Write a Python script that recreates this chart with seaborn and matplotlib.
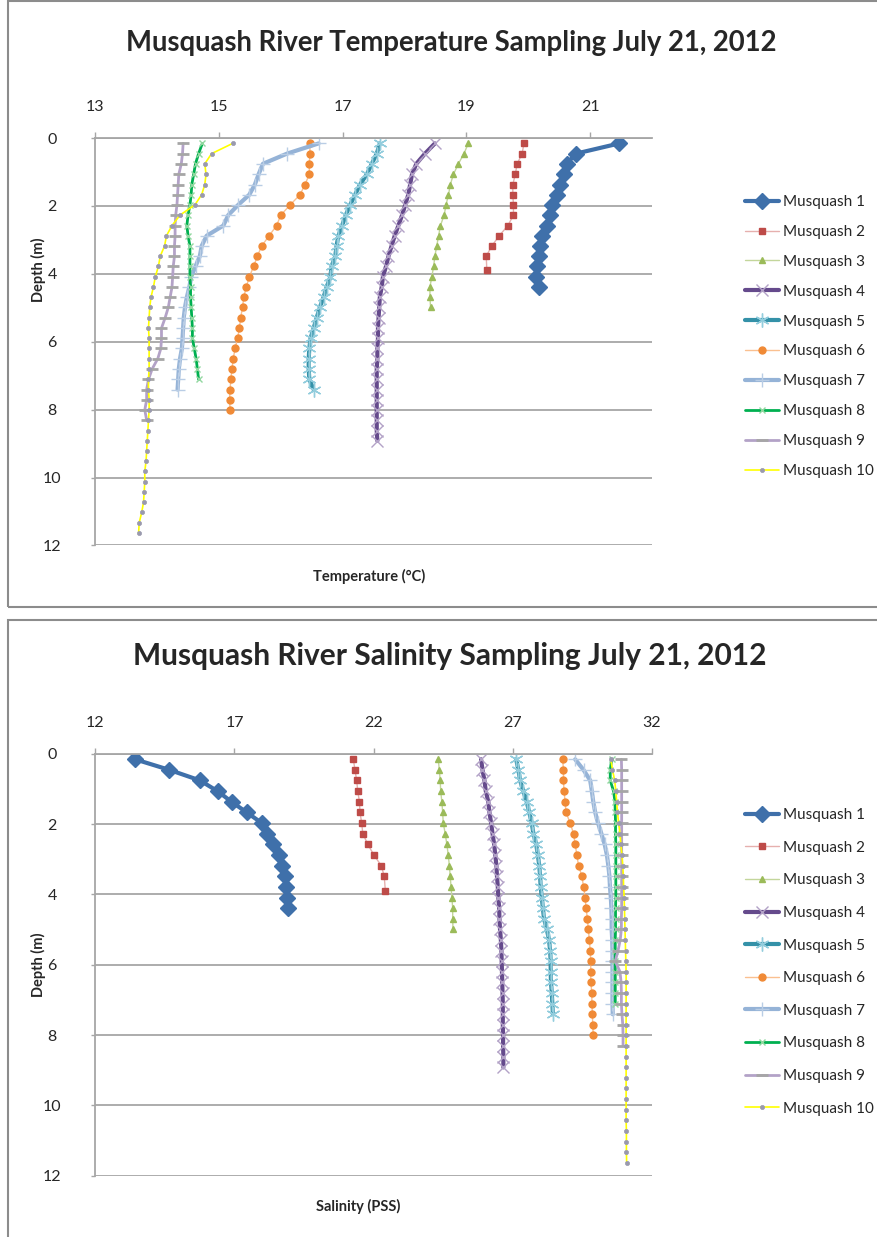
import matplotlib
matplotlib.use('Agg')
import matplotlib.pyplot as plt
from matplotlib.patches import Rectangle
import pandas as pd
import seaborn as sns

# ---------------- data ----------------
stations = ['Musquash 1', 'Musquash 2', 'Musquash 3', 'Musquash 4', 'Musquash 5',
            'Musquash 6', 'Musquash 7', 'Musquash 8', 'Musquash 9', 'Musquash 10']

# sampling depths (m), shared by the casts; Musquash 2 has its own last depth
depth = [0.16, 0.46, 0.76, 1.07, 1.37, 1.67, 1.97, 2.27, 2.58, 2.88,
         3.18, 3.48, 3.78, 4.09, 4.39, 4.69, 4.99, 5.29, 5.60, 5.90,
         6.20, 6.50, 6.80, 7.11, 7.41, 7.71, 8.01, 8.31, 8.62, 8.92,
         9.22, 9.52, 9.82, 10.13, 10.43, 10.73, 11.03, 11.33, 11.64]
depth_m2 = [0.16, 0.46, 0.76, 1.07, 1.37, 1.67, 1.97, 2.27, 2.58, 2.88,
            3.18, 3.48, 3.90]

# temperature (deg C)
temp_m1 = [21.47, 20.77, 20.62, 20.57, 20.52, 20.46, 20.38, 20.35, 20.30, 20.22,
           20.19, 20.17, 20.14, 20.13, 20.18]
temp_m2 = [19.93, 19.90, 19.82, 19.79, 19.75, 19.75, 19.76, 19.76, 19.67, 19.53,
           19.41, 19.32, 19.33]
temp_m3 = [19.03, 18.96, 18.87, 18.79, 18.74, 18.71, 18.67, 18.64, 18.58, 18.55,
           18.52, 18.49, 18.47, 18.44, 18.41, 18.41, 18.42]
temp_m4 = [18.49, 18.33, 18.19, 18.12, 18.09, 18.06, 18.01, 17.96, 17.90, 17.84,
           17.79, 17.74, 17.70, 17.65, 17.63, 17.60, 17.59, 17.58, 17.57, 17.57,
           17.56, 17.56, 17.55, 17.55, 17.55, 17.55, 17.55, 17.55, 17.55, 17.56]
temp_m5 = [17.60, 17.55, 17.47, 17.39, 17.28, 17.20, 17.12, 17.05, 16.99, 16.93,
           16.90, 16.88, 16.82, 16.80, 16.74, 16.69, 16.63, 16.58, 16.53, 16.48,
           16.46, 16.45, 16.45, 16.46, 16.53]
temp_m6 = [16.47, 16.47, 16.46, 16.46, 16.39, 16.31, 16.15, 16.00, 15.93, 15.81,
           15.69, 15.62, 15.56, 15.49, 15.44, 15.40, 15.38, 15.35, 15.33, 15.30,
           15.26, 15.23, 15.21, 15.19, 15.18, 15.17, 15.18]
temp_m7 = [16.61, 16.10, 15.71, 15.64, 15.58, 15.49, 15.31, 15.15, 15.07, 14.80,
           14.72, 14.69, 14.62, 14.55, 14.52, 14.48, 14.45, 14.43, 14.42, 14.41,
           14.40, 14.37, 14.35, 14.34, 14.33]
temp_m8 = [14.73, 14.67, 14.62, 14.59, 14.56, 14.55, 14.53, 14.50, 14.48, 14.50,
           14.53, 14.53, 14.53, 14.53, 14.54, 14.54, 14.55, 14.56, 14.57, 14.57,
           14.60, 14.63, 14.65, 14.67]
temp_m9 = [14.42, 14.41, 14.39, 14.35, 14.34, 14.33, 14.32, 14.30, 14.29, 14.29,
           14.28, 14.28, 14.26, 14.25, 14.24, 14.21, 14.18, 14.13, 14.07, 14.07,
           14.06, 14.01, 13.92, 13.86, 13.83, 13.83, 13.80, 13.83]
temp_m10 = [15.22, 14.88, 14.77, 14.79, 14.77, 14.72, 14.61, 14.37, 14.24, 14.15,
            14.12, 14.05, 14.02, 13.97, 13.94, 13.90, 13.88, 13.87, 13.86, 13.87,
            13.87, 13.87, 13.87, 13.86, 13.86, 13.87, 13.87, 13.86, 13.85, 13.84,
            13.83, 13.82, 13.80, 13.80, 13.79, 13.78, 13.75, 13.71, 13.70]

# salinity (PSS)
sal_m1 = [13.43, 14.66, 15.76, 16.40, 16.90, 17.44, 17.98, 18.18, 18.40, 18.61,
          18.70, 18.82, 18.85, 18.90, 18.94]
sal_m2 = [21.27, 21.33, 21.39, 21.43, 21.49, 21.51, 21.57, 21.61, 21.79, 22.01,
          22.27, 22.38, 22.42]
sal_m3 = [24.32, 24.36, 24.39, 24.41, 24.45, 24.48, 24.50, 24.57, 24.63, 24.68,
          24.72, 24.75, 24.78, 24.81, 24.84, 24.84, 24.85]
sal_m4 = [25.86, 25.91, 25.98, 26.03, 26.12, 26.16, 26.22, 26.27, 26.33, 26.37,
          26.41, 26.43, 26.46, 26.48, 26.51, 26.52, 26.54, 26.57, 26.59, 26.60,
          26.61, 26.62, 26.63, 26.64, 26.64, 26.64, 26.65, 26.65, 26.66, 26.66]
sal_m5 = [27.12, 27.20, 27.26, 27.38, 27.50, 27.59, 27.68, 27.74, 27.84, 27.90,
          27.95, 27.98, 28.00, 28.04, 28.08, 28.12, 28.22, 28.30, 28.34, 28.36,
          28.36, 28.37, 28.40, 28.42, 28.44]
sal_m6 = [28.79, 28.82, 28.82, 28.84, 28.88, 28.91, 29.06, 29.18, 29.24, 29.30,
          29.36, 29.48, 29.54, 29.60, 29.63, 29.68, 29.71, 29.75, 29.78, 29.80,
          29.80, 29.80, 29.84, 29.84, 29.86, 29.87, 29.89]
sal_m7 = [29.24, 29.54, 29.78, 29.84, 29.89, 29.96, 30.06, 30.18, 30.30, 30.38,
          30.43, 30.47, 30.49, 30.52, 30.54, 30.55, 30.55, 30.57, 30.58, 30.58,
          30.58, 30.58, 30.58, 30.58, 30.59]
sal_m8 = [30.55, 30.50, 30.50, 30.62, 30.67, 30.68, 30.69, 30.69, 30.70, 30.70,
          30.70, 30.70, 30.70, 30.70, 30.69, 30.69, 30.69, 30.68, 30.68, 30.68,
          30.68, 30.68, 30.68, 30.68]
sal_m9 = [30.90, 30.91, 30.91, 30.91, 30.91, 30.91, 30.91, 30.91, 30.91, 30.91,
          30.91, 30.91, 30.91, 30.91, 30.91, 30.90, 30.90, 30.86, 30.78, 30.68,
          30.85, 30.89, 30.90, 30.90, 30.92, 30.95, 30.96, 30.96]
sal_m10 = [30.52, 30.58, 30.66, 30.70, 30.73, 30.76, 30.80, 30.85, 30.88, 30.92,
           30.95, 30.97, 30.98, 31.00, 31.01, 31.02, 31.03, 31.04, 31.05, 31.06,
           31.07, 31.07, 31.07, 31.07, 31.07, 31.07, 31.07, 31.07, 31.07, 31.07,
           31.07, 31.07, 31.07, 31.07, 31.07, 31.08, 31.08, 31.08, 31.09]

temps = [temp_m1, temp_m2, temp_m3, temp_m4, temp_m5,
         temp_m6, temp_m7, temp_m8, temp_m9, temp_m10]
sals = [sal_m1, sal_m2, sal_m3, sal_m4, sal_m5,
        sal_m6, sal_m7, sal_m8, sal_m9, sal_m10]

# ---------------- styles (Excel 2007 look) ----------------
styles = {
    'Musquash 1': dict(color='#3F70AA', lw=3.0, marker='D', ms=8.5, mfc='#3F70AA', mec='#3F70AA', mew=1),
    'Musquash 2': dict(color='#E6B0AE', lw=1.0, marker='s', ms=5, mfc='#BE4B48', mec='#BE4B48', mew=1),
    'Musquash 3': dict(color='#C3D69B', lw=1.0, marker='^', ms=5, mfc='#9BBB59', mec='#9BBB59', mew=1),
    'Musquash 4': dict(color='#654A8C', lw=3.0, marker='x', ms=9, mfc='#B3A2C7', mec='#B3A2C7', mew=1),
    'Musquash 5': dict(color='#3491A8', lw=3.0, marker=(6, 2, 0), ms=10, mfc='#93CDDD', mec='#93CDDD', mew=1),
    'Musquash 6': dict(color='#FAC090', lw=1.0, marker='o', ms=5, mfc='#F08A36', mec='#F08A36', mew=1),
    'Musquash 7': dict(color='#95B3D7', lw=3.0, marker='+', ms=10, mfc='#B9CDE5', mec='#B9CDE5', mew=1),
    'Musquash 8': dict(color='#00B050', lw=2.0, marker='x', ms=5, mfc='#92D8A0', mec='#92D8A0', mew=1),
    'Musquash 9': dict(color='#B3A2C7', lw=2.0, marker='_', ms=8, mfc='#A6A6A6', mec='#A6A6A6', mew=2),
    'Musquash 10': dict(color='#FFFF00', lw=1.2, marker='o', ms=3, mfc='#9A9AAE', mec='#9A9AAE', mew=0.5),
}


def build(values):
    rows = []
    for name, vals in zip(stations, values):
        d = depth_m2 if name == 'Musquash 2' else depth
        for v, z in zip(vals, d):
            rows.append((name, z, v))
    return pd.DataFrame(rows, columns=['station', 'depth', 'value'])


df_temp = build(temps)
df_sal = build(sals)

sns.set_theme(style='white')
plt.rcParams['font.family'] = ['Lato', 'DejaVu Sans']

W, H = 878, 1237
fig = plt.figure(figsize=(W / 100, H / 100), dpi=100)


def fx(px):
    return px / W


def fy(py):
    return 1 - py / H


GRID = '#A6A6A6'
TXT = '#262626'


def draw(ax, df, xlim, xticks, leg_top, leg_space):
    for name in stations:
        st = styles[name]
        sub = df[df['station'] == name]
        sns.lineplot(data=sub, x='value', y='depth', orient='y', sort=False,
                     estimator=None, ax=ax, label=name, **st)
    ax.set_xlim(*xlim)
    ax.set_ylim(12, 0)
    ax.set_xticks(xticks)
    ax.set_yticks(range(0, 13, 2))
    ax.xaxis.tick_top()
    ax.set_xlabel('')
    ax.set_ylabel('')
    ax.grid(False)
    ax.yaxis.grid(True, color=GRID, lw=1.3)
    for s in ['right', 'bottom']:
        ax.spines[s].set_visible(False)
    for s in ['top', 'left']:
        ax.spines[s].set_color(GRID)
        ax.spines[s].set_linewidth(1.3)
    ax.tick_params(axis='x', top=True, bottom=False, direction='out', length=4,
                   width=1, color=GRID, pad=13, labelsize=11.5, labelcolor=TXT)
    ax.tick_params(axis='y', left=True, direction='out', length=3, width=1,
                   color=GRID, pad=28, labelsize=11.5, labelcolor=TXT)
    for lab in ax.get_yticklabels():
        lab.set_horizontalalignment('center')
    leg = ax.legend(loc='upper left', bbox_to_anchor=(fx(745), fy(leg_top)),
                    bbox_transform=fig.transFigure, frameon=False, fontsize=11,
                    handlelength=2.2, handletextpad=0.3, borderpad=0,
                    borderaxespad=0, labelspacing=leg_space)
    for t in leg.get_texts():
        t.set_color(TXT)


# panel frames
for y0, y1 in [(1, 607), (620, 1240)]:
    fig.patches.append(Rectangle((fx(8), fy(y1)), fx(W + 10) - fx(8), fy(y0) - fy(y1),
                                 transform=fig.transFigure, fill=False,
                                 edgecolor='#8C8C8C', lw=1.5))

# temperature chart
ax1 = fig.add_axes([fx(95.3), fy(545.4), fx(652) - fx(95.3), fy(138) - fy(545.4)])
draw(ax1, df_temp, (13, 22), [13, 15, 17, 19, 21], 195, 1.04)
fig.text(fx(451), fy(43), 'Musquash River Temperature Sampling July 21, 2012',
         ha='center', va='center', fontsize=19.8, fontweight='bold', color=TXT)
fig.text(fx(369), fy(576), 'Temperature (°C)', ha='center', va='center',
         fontsize=10.5, fontweight='bold', color=TXT)
fig.text(fx(38), fy(270), 'Depth (m)', ha='center', va='center', rotation=90,
         fontsize=10.5, fontweight='bold', color=TXT)

# salinity chart
ax2 = fig.add_axes([fx(95.3), fy(1175.7), fx(652) - fx(95.3), fy(753.7) - fy(1175.7)])
draw(ax2, df_sal, (12, 32), [12, 17, 22, 27, 32], 808, 1.22)
fig.text(fx(450), fy(656), 'Musquash River Salinity Sampling July 21, 2012',
         ha='center', va='center', fontsize=21.5, fontweight='bold', color=TXT)
fig.text(fx(358), fy(1206), 'Salinity (PSS)', ha='center', va='center',
         fontsize=10.5, fontweight='bold', color=TXT)
fig.text(fx(38), fy(965), 'Depth (m)', ha='center', va='center', rotation=90,
         fontsize=10.5, fontweight='bold', color=TXT)

fig.savefig('out.png', dpi=100)
